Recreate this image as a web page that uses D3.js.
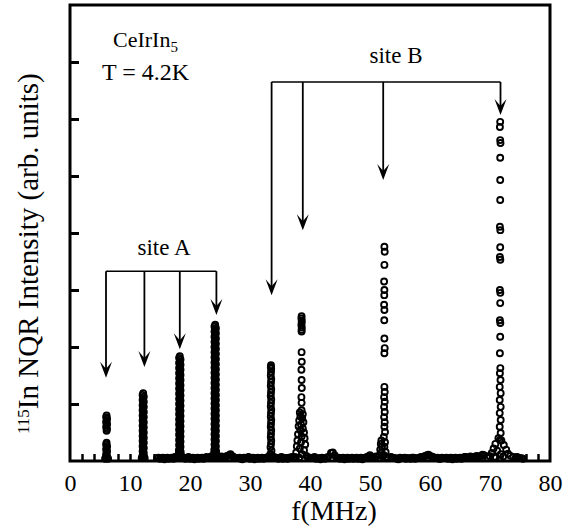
<!DOCTYPE html>
<html><head><meta charset="utf-8">
<script src="https://cdn.jsdelivr.net/npm/d3@7"></script>
<style>body{margin:0;background:#fff}svg{display:block}text{font-family:"Liberation Serif","Times New Roman",serif}</style>
</head><body><svg id="c" width="577" height="527"></svg>
<script>
// ---- axis ticks ----
const xTicks=[0,10,20,30,40,50,60,70,80];
const xMinor=[2,4,6,8,10,12,14,16,18,20,22,24,26,28,30,32,34,36,38,40,42,44,46,48,50,52,54,56,58,60,62,64,66,68,70,72,74,76,78];
const yTicks=[1,2,3,4,5,6,7];

// ---- data: [f (MHz), intensity] ----
const baseline=[[14.5,0.05],[15.0,0.04],[15.5,0.06],[16.0,0.05],[16.5,0.04],[17.0,0.06],[17.5,0.07],[17.9,0.06],[18.7,0.06],[19.0,0.06],[19.5,0.05],[20.0,0.04],[20.5,0.06],[21.0,0.05],[21.5,0.04],[22.0,0.06],[22.5,0.05],[23.0,0.06],[23.5,0.08],[23.9,0.07],[24.6,0.07],[25.0,0.07],[25.5,0.06],[26.0,0.08],[26.5,0.10],[27.0,0.09],[27.5,0.06],[28.0,0.05],[28.5,0.04],[29.0,0.06],[29.5,0.05],[30.0,0.04],[30.5,0.06],[31.0,0.05],[31.5,0.04],[32.0,0.06],[32.5,0.05],[33.0,0.07],[34.0,0.07],[34.5,0.05],[35.0,0.06],[35.5,0.04],[36.0,0.05],[36.5,0.06],[37.0,0.07],[40.0,0.06],[40.5,0.05],[41.0,0.04],[41.5,0.05],[42.0,0.06],[42.5,0.04],[43.0,0.07],[43.5,0.14],[43.8,0.15],[44.1,0.10],[44.5,0.05],[45.0,0.04],[45.5,0.06],[46.0,0.05],[46.5,0.04],[47.0,0.06],[47.5,0.05],[48.0,0.04],[48.5,0.06],[49.0,0.05],[49.5,0.07],[50.0,0.10],[50.5,0.06],[51.0,0.08],[53.5,0.07],[54.0,0.05],[54.5,0.04],[55.0,0.06],[55.5,0.05],[56.0,0.04],[56.5,0.05],[57.0,0.06],[57.5,0.04],[58.0,0.05],[58.5,0.07],[59.0,0.08],[59.5,0.10],[60.0,0.09],[60.5,0.07],[61.0,0.05],[61.5,0.04],[62.0,0.06],[62.5,0.05],[63.0,0.04],[63.5,0.06],[64.0,0.05],[64.5,0.04],[65.0,0.06],[65.5,0.05],[66.0,0.07],[66.5,0.06],[67.0,0.05],[67.5,0.07],[68.0,0.08],[68.5,0.09],[69.0,0.10],[74.5,0.07],[75.0,0.05],[75.5,0.04]];

const baseline2=[[14.75,0.06],[15.25,0.05],[15.75,0.03],[16.25,0.06],[16.75,0.05],[17.25,0.04],[17.75,0.07],[18.95,0.05],[19.25,0.04],[19.75,0.07],[20.25,0.05],[20.75,0.03],[21.25,0.06],[21.75,0.05],[22.25,0.04],[22.75,0.07],[23.25,0.05],[24.85,0.06],[25.25,0.08],[25.75,0.05],[26.25,0.09],[26.75,0.12],[27.25,0.07],[27.75,0.05],[28.25,0.06],[28.75,0.03],[29.25,0.05],[29.75,0.07],[30.25,0.05],[30.75,0.03],[31.25,0.06],[31.75,0.05],[32.25,0.04],[32.75,0.06],[34.25,0.06],[34.75,0.04],[35.25,0.07],[35.75,0.05],[36.25,0.04],[36.75,0.06],[40.25,0.05],[40.75,0.07],[41.25,0.05],[41.75,0.03],[42.25,0.05],[42.75,0.06],[44.75,0.06],[45.25,0.05],[45.75,0.03],[46.25,0.06],[46.75,0.05],[47.25,0.04],[47.75,0.06],[48.25,0.05],[48.75,0.03],[49.25,0.06],[49.75,0.08],[50.25,0.07],[50.75,0.05],[53.75,0.06],[54.25,0.05],[54.75,0.03],[55.25,0.05],[55.75,0.06],[56.25,0.05],[56.75,0.04],[57.25,0.06],[57.75,0.05],[58.25,0.06],[58.75,0.05],[59.25,0.09],[59.75,0.11],[60.25,0.08],[60.75,0.05],[61.25,0.06],[61.75,0.04],[62.25,0.05],[62.75,0.06],[63.25,0.05],[63.75,0.03],[64.25,0.06],[64.75,0.05],[65.25,0.04],[65.75,0.07],[66.25,0.05],[66.75,0.08],[67.25,0.06],[67.75,0.09],[68.25,0.07],[68.75,0.11],[74.75,0.06],[75.25,0.05]];

const peak6=[[6.10,0.80],[6.02,0.77],[6.18,0.74],[6.10,0.71],[6.02,0.68],[6.18,0.65],[6.10,0.62],[6.03,0.59],[6.17,0.56],[6.10,0.53],
[6.10,0.32],[6.02,0.29],[6.18,0.26],[6.10,0.23],[6.02,0.20],[6.18,0.17],[6.10,0.14],[6.02,0.11],[6.18,0.08],[5.95,0.06],[6.25,0.05],[5.85,0.04],[6.35,0.04]];

const peak12=[[12.20,1.19],[12.10,1.16],[12.30,1.13],[12.20,1.10],[12.10,1.07],[12.30,1.04],[12.20,1.01],[12.10,0.98],[12.30,0.95],[12.20,0.92],[12.10,0.89],[12.30,0.86],[12.20,0.83],[12.10,0.80],[12.30,0.77],[12.20,0.74],[12.10,0.71],[12.30,0.68],[12.20,0.65],[12.10,0.62],[12.30,0.59],[12.20,0.56],[12.10,0.53],[12.30,0.50],[12.20,0.47],[12.10,0.44],[12.30,0.41],[12.20,0.38],[12.10,0.35],[12.30,0.32],[12.20,0.29],[12.10,0.26],[12.30,0.23],[12.20,0.20],[12.10,0.17],[12.30,0.14],[12.20,0.11],[12.05,0.08],[12.35,0.07],[11.95,0.05],[12.45,0.05]];

const peak18=[[18.30,1.84],[18.18,1.81],[18.42,1.78],[18.30,1.75],[18.18,1.72],[18.42,1.69],[18.30,1.66],[18.18,1.63],[18.42,1.60],[18.30,1.57],[18.18,1.54],[18.42,1.51],[18.30,1.48],[18.18,1.45],[18.42,1.42],[18.30,1.39],[18.18,1.36],[18.42,1.33],[18.30,1.30],[18.18,1.27],[18.42,1.24],[18.30,1.21],[18.18,1.18],[18.42,1.15],[18.30,1.12],[18.18,1.09],[18.42,1.06],[18.30,1.03],[18.18,1.00],[18.42,0.97],[18.30,0.94],[18.18,0.91],[18.42,0.88],[18.30,0.85],[18.18,0.82],[18.42,0.79],[18.30,0.76],[18.18,0.73],[18.42,0.70],[18.30,0.67],[18.18,0.64],[18.42,0.61],[18.30,0.58],[18.18,0.55],[18.42,0.52],[18.30,0.49],[18.18,0.46],[18.42,0.43],[18.30,0.40],[18.18,0.37],[18.42,0.34],[18.30,0.31],[18.18,0.28],[18.42,0.25],[18.30,0.22],[18.15,0.19],[18.45,0.16],[18.12,0.13],[18.48,0.10],[18.10,0.08],[18.50,0.07],[18.00,0.06],[18.60,0.05]];

const peak24=[[24.20,2.39],[24.08,2.36],[24.32,2.33],[24.20,2.30],[24.08,2.27],[24.32,2.24],[24.20,2.21],[24.08,2.18],[24.32,2.15],[24.20,2.12],[24.08,2.09],[24.32,2.06],[24.20,2.03],[24.08,2.00],[24.32,1.97],[24.20,1.94],[24.08,1.91],[24.32,1.88],[24.20,1.85],[24.08,1.82],[24.32,1.79],[24.20,1.76],[24.08,1.73],[24.32,1.70],[24.20,1.67],[24.08,1.64],[24.32,1.61],[24.20,1.58],[24.08,1.55],[24.32,1.52],[24.20,1.49],[24.08,1.46],[24.32,1.43],[24.20,1.40],[24.08,1.37],[24.32,1.34],[24.20,1.31],[24.08,1.28],[24.32,1.25],[24.20,1.22],[24.08,1.19],[24.32,1.16],[24.20,1.13],[24.08,1.10],[24.32,1.07],[24.20,1.04],[24.08,1.01],[24.32,0.98],[24.20,0.95],[24.08,0.92],[24.32,0.89],[24.20,0.86],[24.08,0.83],[24.32,0.80],[24.20,0.77],[24.08,0.74],[24.32,0.71],[24.20,0.68],[24.08,0.65],[24.32,0.62],[24.20,0.59],[24.08,0.56],[24.32,0.53],[24.20,0.50],[24.08,0.47],[24.32,0.44],[24.20,0.41],[24.08,0.38],[24.32,0.35],[24.20,0.32],[24.08,0.29],[24.32,0.26],[24.20,0.23],[24.05,0.20],[24.35,0.17],[24.02,0.14],[24.38,0.11],[24.00,0.08],[24.40,0.07],[23.90,0.06],[24.50,0.06]];

const peak33=[[33.50,1.68],[33.47,1.65],[33.53,1.62],[33.50,1.56],[33.46,1.50],[33.54,1.44],[33.50,1.38],[33.46,1.32],[33.54,1.26],[33.50,1.20],[33.46,1.14],[33.54,1.08],[33.50,1.02],[33.46,0.96],[33.54,0.90],[33.50,0.84],[33.46,0.78],[33.54,0.72],[33.50,0.66],[33.46,0.60],[33.54,0.54],[33.50,0.48],[33.46,0.42],[33.54,0.36],[33.50,0.30],[33.42,0.24],[33.58,0.18],[33.40,0.12],[33.60,0.09],[33.30,0.07],[33.70,0.06]];

const peak38=[[38.60,2.54],[38.57,2.50],[38.63,2.46],[38.60,2.42],[38.57,2.38],[38.63,2.34],[38.60,2.30],[38.60,2.27],
[38.60,1.91],[38.63,1.74],[38.57,1.60],[38.60,1.42],[38.63,1.28],[38.57,1.12],[38.60,1.02],
[38.6,0.89],[38.3,0.85],[38.8,0.82],[38.4,0.78],[38.7,0.75],[38.2,0.71],[38.9,0.68],[38.5,0.64],[38.1,0.61],[38.8,0.57],[38.4,0.54],[39.0,0.50],[38.0,0.47],[38.6,0.43],[39.1,0.40],[37.9,0.36],[38.5,0.33],[39.2,0.29],[37.8,0.26],[38.3,0.22],[39.0,0.19],[37.7,0.15],[38.7,0.12],[39.4,0.09],[37.5,0.07],[38.2,0.06],[39.7,0.06],[37.3,0.05]];

const peak52=[[52.40,3.76],[52.45,3.67],[52.40,3.44],[52.35,3.15],[52.40,3.00],[52.38,2.91],[52.35,2.74],[52.40,2.65],[52.38,2.47],[52.40,2.15],[52.45,1.98],[52.40,1.89],
[52.40,1.30],[52.45,1.21],[52.35,1.12],[52.45,1.04],[52.35,0.95],[52.45,0.86],[52.35,0.77],[52.45,0.68],[52.40,0.60],[52.50,0.51],[52.30,0.42],[52.50,0.33],[52.40,0.25],[52.60,0.16],[52.30,0.10],
[51.9,0.36],[51.8,0.30],[52.0,0.25],[51.7,0.20],[51.9,0.15],[51.6,0.10],[52.1,0.08],[52.8,0.07],[53.0,0.05]];

const peak71=[[71.70,5.95],[71.65,5.86],[71.70,5.63],[71.75,5.58],[71.70,5.32],[71.70,4.93],[71.70,4.58],[71.65,4.11],[71.72,4.05],[71.70,3.75],[71.65,3.58],[71.72,3.53],[71.65,3.00],[71.72,2.95],[71.70,2.77],[71.65,2.47],[71.72,2.42],[71.70,2.18],[71.65,1.89],[71.72,1.63],[71.65,1.54],[71.75,1.42],[71.62,1.30],[71.78,1.19],[71.62,1.07],[71.78,0.95],[71.62,0.84],[71.78,0.72],[71.62,0.60],[71.78,0.49],[71.65,0.37],
[71.4,0.40],[71.9,0.36],[70.9,0.30],[72.3,0.28],[70.6,0.22],[72.7,0.20],[71.2,0.18],[70.3,0.14],[73.0,0.13],[71.8,0.12],[69.9,0.09],[73.4,0.09],[72.2,0.08],[70.7,0.07],[73.9,0.07],[69.5,0.06],[74.3,0.05],[71.0,0.06]];

// ---- annotations ----
const siteAArrows=[6.0,12.4,18.3,24.4];
const siteATips=[1.46,1.65,1.96,2.56];
const siteALevel=3.33;
const siteBArrows=[33.6,38.8,52.2,71.75];
const siteBTips=[2.91,4.05,4.93,6.07];
const siteBLevel=6.65;

const FONT='"Liberation Serif","Times New Roman",serif';
const svg=d3.select("#c");
const x=d3.scaleLinear().domain([0,80]).range([70,550]);
const y=d3.scaleLinear().domain([0,8]).range([461,5]);

const pts=[].concat(baseline,baseline2,peak6,peak12,peak18,peak24,peak33,peak38,peak52,peak71);
svg.append("g").selectAll("circle").data(pts).join("circle")
  .attr("cx",d=>x(d[0])).attr("cy",d=>y(d[1])).attr("r",3)
  .attr("fill","none").attr("stroke","#000").attr("stroke-width",1.9);

// minor inward x ticks
const gm=svg.append("g").attr("transform",`translate(0,${y(0)})`)
  .call(d3.axisTop(x).tickValues(xMinor).tickSize(7).tickFormat(""));
gm.select(".domain").remove();
gm.selectAll("line").attr("stroke","#000").attr("stroke-width",2.5);

// x labels
const gx=svg.append("g").attr("transform",`translate(0,${y(0)})`)
  .call(d3.axisBottom(x).tickValues(xTicks).tickSize(0));
gx.select(".domain").remove();
gx.attr("font-family",FONT);
gx.selectAll("text").attr("y",30).attr("dy",0).attr("font-family",FONT).attr("font-size",24).attr("fill","#000");

// y ticks inward
const gy=svg.append("g").attr("transform",`translate(${x(0)},0)`)
  .call(d3.axisRight(y).tickValues(yTicks).tickSize(9).tickFormat(""));
gy.select(".domain").remove();
gy.selectAll("line").attr("stroke","#000").attr("stroke-width",3);

// frame
svg.append("rect").attr("x",x(0)).attr("y",y(8)).attr("width",x(80)-x(0)).attr("height",y(0)-y(8))
  .attr("fill","none").attr("stroke","#000").attr("stroke-width",3);

// arrows
function bracket(fs,tips,level){
  const g=svg.append("g");
  g.append("line").attr("x1",x(fs[0])).attr("x2",x(fs[fs.length-1])).attr("y1",y(level)).attr("y2",y(level))
    .attr("stroke","#000").attr("stroke-width",1.6);
  fs.forEach((f,i)=>{
    g.append("line").attr("x1",x(f)).attr("x2",x(f)).attr("y1",y(level)).attr("y2",y(tips[i])-6)
      .attr("stroke","#000").attr("stroke-width",1.8);
    g.append("path").attr("d","M0,0 L-6,-16 L0,-9 L6,-16 Z")
      .attr("transform",`translate(${x(f)},${y(tips[i])})`).attr("fill","#000");
  });
}
bracket(siteAArrows,siteATips,siteALevel);
bracket(siteBArrows,siteBTips,siteBLevel);

// texts
const t1=svg.append("text").attr("x",113).attr("y",47).attr("font-family",FONT).attr("font-size",22);
t1.append("tspan").text("CeIrIn");
t1.append("tspan").attr("font-size",15).attr("dy",5).text("5");
svg.append("text").attr("x",102).attr("y",80).attr("font-family",FONT).attr("font-size",24).text("T = 4.2K");
svg.append("text").attr("x",164).attr("y",255).attr("text-anchor","middle").attr("font-family",FONT).attr("font-size",23).text("site A");
svg.append("text").attr("x",396).attr("y",63).attr("text-anchor","middle").attr("font-family",FONT).attr("font-size",23).text("site B");

svg.append("text").attr("x",334).attr("y",520).attr("text-anchor","middle").attr("font-family",FONT).attr("font-size",28).text("f(MHz)");

const yl=svg.append("text").attr("transform","translate(38,434) rotate(-90)").attr("font-family",FONT).attr("font-size",29);
yl.append("tspan").attr("font-size",17).attr("dy",-9).text("115");
yl.append("tspan").attr("dy",9).text("In NQR Intensity (arb. units)");
</script>
</body></html>
